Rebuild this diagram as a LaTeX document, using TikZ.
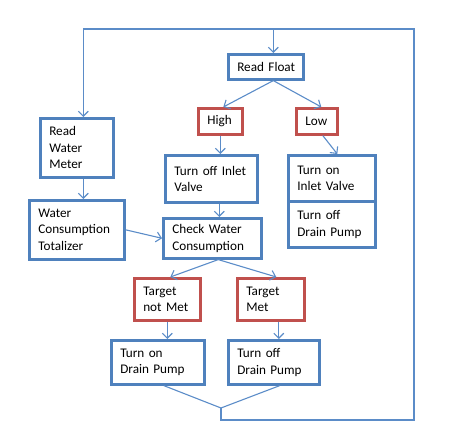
\documentclass[tikz,border=0pt]{standalone}
\usepackage{fontspec}
\setmainfont{Carlito}
\usetikzlibrary{arrows.meta,calc}
\definecolor{boxblue}{HTML}{4F81BD}
\definecolor{boxred}{HTML}{C0504D}
\definecolor{linkblue}{HTML}{5B8CC8}
\tikzset{
  box/.style={draw=boxblue, line width=2.6pt, inner xsep=9pt, inner ysep=0pt,
    align=left, anchor=north west, font=\fontsize{13.2}{16.5}\selectfont, text=black},
  redbox/.style={box, draw=boxred},
  link/.style={draw=linkblue, line width=1.1pt, -{Straight Barb[length=5pt,width=10pt,line width=1.1pt]}},
  plain/.style={draw=linkblue, line width=1.1pt}
}
\begin{document}
\begin{tikzpicture}[x=1pt,y=-1pt]
\useasboundingbox (0,0) rectangle (450,444);
\node[box, text width=57pt, minimum height=25pt] (float) at (227,53) {Read~Float};
\node[box, text width=55pt, minimum height=59pt] (meter) at (39,117) {Read\\Water\\Meter};
\node[redbox, text width=26pt, minimum height=26pt] (high) at (197,107) {High};
\node[redbox, text width=23pt, minimum height=26pt] (low) at (295,107) {Low};
\node[box, text width=74pt, minimum height=47pt] (offin) at (164,154) {Turn~off~Inlet\\Valve};
\node[box, text width=69pt, minimum height=46pt] (onin) at (287,154) {Turn~on\\Inlet~Valve};
\node[box, text width=69pt, minimum height=46pt] (offdrainA) at (287,200) {Turn~off\\Drain~Pump};
\node[box, text width=77pt, minimum height=59pt] (total) at (28,199) {Water\\Consumption\\Totalizer};
\node[box, text width=80pt, minimum height=40pt] (check) at (162,217) {Check~Water\\Consumption};
\node[redbox, text width=48pt, minimum height=42pt] (notmet) at (133,277) {Target\\not~Met};
\node[redbox, text width=49pt, minimum height=42pt] (met) at (236,277) {Target\\Met};
\node[box, text width=75pt, minimum height=44pt] (ondrain) at (110,339) {Turn~on\\Drain~Pump};
\node[box, text width=73pt, minimum height=44pt] (offdrainB) at (227,339) {Turn~off\\Drain~Pump};

\coordinate (jn) at (221,408);
\coordinate (br) at (414,420);
\coordinate (tr) at (414,29);
\coordinate (fin) at ($(float.north)+(7.5,0)$);
\coordinate (fout) at ($(float.south)+(7.5,0)$);
\coordinate (mout) at ($(meter.south)+(6.5,0)$);
\coordinate (min) at ($(meter.north)+(6.5,0)$);
\coordinate (oout) at ($(offin.south)+(8,0)$);
\coordinate (cout) at ($(check.south)+(6,0)$);
\coordinate (tout) at ($(met.south)+(8,0)$);

% loop back
\draw[plain] ($(ondrain.south)+(6,0)$) -- (jn);
\draw[plain] ($(offdrainB.south)+(6,0)$) -- (jn);
\draw[link] (jn) |- (br) -- (tr) -| (min);
\draw[link] (fin |- tr) -- (fin);

% float branches
\draw[link] (fout) -- ($(high.north)+(3,0)$);
\draw[link] (fout) -- ($(low.north)+(4.5,0)$);
\draw[link] (high.south) -- (high.south |- offin.north);
\draw[link] ($(low.south)+(6,0)$) -- ($(onin.north)+(5.5,0)$);
\draw[link] (oout) -- (oout |- check.north);

% meter
\draw[link] (mout) -- (mout |- total.north);
\draw[link] (total.east) -- (check.west);

% check branches
\draw[link] (cout) -- ($(notmet.north)+(3,0)$);
\draw[link] (cout) -- ($(met.north)+(5.5,0)$);
\draw[link] (notmet.south) -- (notmet.south |- ondrain.north);
\draw[link] (tout) -- (tout |- offdrainB.north);
\end{tikzpicture}
\end{document}
